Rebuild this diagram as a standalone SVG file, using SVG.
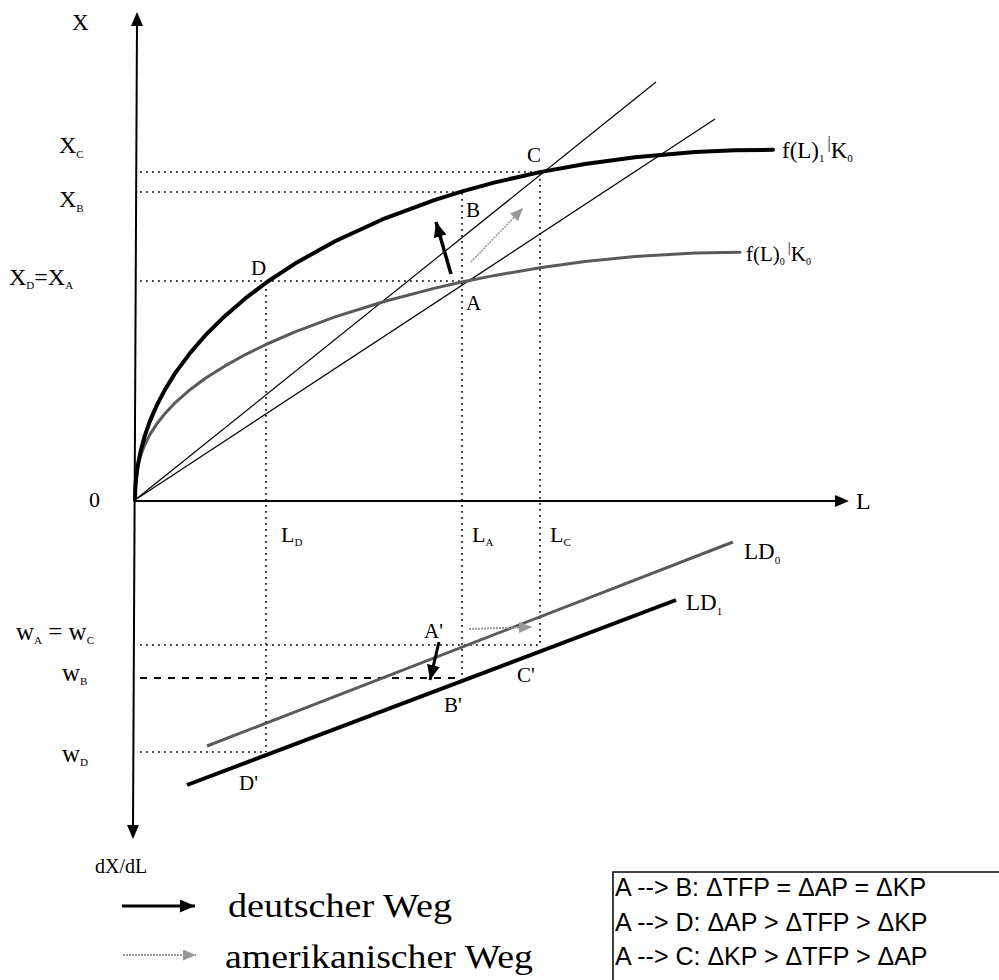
<svg xmlns="http://www.w3.org/2000/svg" width="999" height="980" viewBox="0 0 999 980">
<style>
.t{font-family:"Liberation Serif","Times New Roman",serif;fill:#000}
.s{font-family:"Liberation Sans",Arial,sans-serif;fill:#000}
.dot{stroke:#000;stroke-width:1.6;stroke-dasharray:1.8 4.2;fill:none}
.thin{stroke:#000;stroke-width:1.2;fill:none}
.crv{fill:none;stroke-linejoin:round;stroke-linecap:round}
</style>
<defs>
<marker id="ab" markerUnits="userSpaceOnUse" markerWidth="16" markerHeight="14" refX="15" refY="6.5" orient="auto"><path d="M0,0 L15,6.5 L0,13 z" fill="#000"/></marker>
<marker id="ag" markerUnits="userSpaceOnUse" markerWidth="14" markerHeight="12" refX="13" refY="5.5" orient="auto"><path d="M0,0 L13,5.5 L0,11 z" fill="#999"/></marker>
</defs>
<rect width="999" height="980" fill="#fff"/>

<g id="axes">
<line x1="137" y1="22" x2="133" y2="828" stroke="#000" stroke-width="2"/>
<path d="M137,12 L131,26 L143,26 z" fill="#000"/>
<path d="M133,839 L127,825 L139,825 z" fill="#000"/>
<line x1="134" y1="501" x2="836" y2="501" stroke="#000" stroke-width="2"/>
<path d="M849,501 L835,495 L835,507 z" fill="#000"/>
</g>

<g id="guides">
<line class="dot" x1="140" y1="172" x2="540" y2="172"/>
<line class="dot" x1="140" y1="192" x2="463" y2="192"/>
<line class="dot" x1="140" y1="281" x2="463" y2="281"/>
<line class="dot" x1="266" y1="283" x2="266" y2="752"/>
<line class="dot" x1="462" y1="193" x2="462" y2="680"/>
<line class="dot" x1="540" y1="173" x2="540" y2="645"/>
<line class="dot" x1="140" y1="645" x2="540" y2="645"/>
<line class="dot" x1="140" y1="752" x2="266" y2="752"/>
<line x1="140" y1="678" x2="462" y2="678" stroke="#000" stroke-width="2" stroke-dasharray="7 7"/>
</g>

<g id="rays">
<line class="thin" x1="135" y1="500" x2="715" y2="119"/>
<line class="thin" x1="135" y1="500" x2="656" y2="82"/>
</g>

<g id="curve-f0">
<polyline class="crv" stroke="#5a5a5a" stroke-width="3" points="135,500 135.3,490 136,477.8 138,465.6 141,454.5 145,444.2 150,434.4 157,423.6 165,413.5 175,402.9 190,389.7 205,378.5 225,365.9 245,354.8 267,344 295,331.9 335,316.9 385,301.2 435,288.1 463,281.7 495,275.4 540,267.7 585,261.5 635,256.6 695,253 740,252.3"/>
</g>

<g id="curve-f1">
<polyline class="crv" stroke="#000" stroke-width="4" points="135,500 135.3,488.5 136,479.1 138,464.1 141,449.5 145,435.1 150,420.9 157,404.9 165,389.6 175,373.4 190,353.1 205,335.7 225,315.9 245,298.7 267,282 295,263.6 335,241.2 385,218.3 435,199.8 463,191.1 495,182.4 540,172.1 585,164 635,157.2 695,152.1 735,150.3 773,149.8"/>
</g>

<g id="LD0">
<line x1="207" y1="746" x2="733" y2="542" stroke="#5a5a5a" stroke-width="3"/>
</g>
<g id="LD1">
<line x1="187" y1="785" x2="676" y2="600" stroke="#000" stroke-width="4"/>
</g>

<g id="connectors">
<line x1="451" y1="274" x2="436" y2="222" stroke="#000" stroke-width="3.5" marker-end="url(#ab)"/>
<line x1="471" y1="262" x2="523" y2="208" stroke="#999" stroke-width="1.6" stroke-dasharray="2 1" marker-end="url(#ag)"/>
<line x1="439" y1="642" x2="430" y2="680" stroke="#000" stroke-width="3" marker-end="url(#ab)"/>
<line x1="469" y1="629" x2="532" y2="627" stroke="#999" stroke-width="2" stroke-dasharray="2 1" marker-end="url(#ag)"/>
</g>

<g id="labels-axes">
<text class="t" x="72" y="30" font-size="23">X</text>
<text class="t" x="89" y="507" font-size="22">0</text>
<text class="t" x="856" y="509" font-size="24">L</text>
<text class="t" x="95" y="873" font-size="20">dX/dL</text>
<text class="t" x="59" y="153" font-size="24">X<tspan font-size="11" dy="5">C</tspan></text>
<text class="t" x="59" y="207" font-size="24">X<tspan font-size="11" dy="5">B</tspan></text>
<text class="t" x="9" y="285" font-size="24">X<tspan font-size="11" dy="4">D</tspan><tspan dy="-4">=X</tspan><tspan font-size="11" dy="4">A</tspan></text>
<text class="t" x="281" y="542" font-size="22">L<tspan font-size="11" dy="4">D</tspan></text>
<text class="t" x="472" y="542" font-size="22">L<tspan font-size="11" dy="4">A</tspan></text>
<text class="t" x="550" y="542" font-size="22">L<tspan font-size="11" dy="4">C</tspan></text>
<text class="t" x="16" y="640" font-size="25">w<tspan font-size="11" dy="4">A</tspan><tspan dy="-4"> = w</tspan><tspan font-size="11" dy="4">C</tspan></text>
<text class="t" x="62" y="681" font-size="25">w<tspan font-size="11" dy="4">B</tspan></text>
<text class="t" x="62" y="762" font-size="25">w<tspan font-size="11" dy="4">D</tspan></text>
</g>

<g id="labels-curves">
<text class="t" x="782" y="158" font-size="23">f(L)<tspan font-size="11" dy="4">1</tspan><tspan font-size="16" dy="-14" dx="3">|</tspan><tspan dy="10">K</tspan><tspan font-size="11" dy="4">0</tspan></text>
<text class="t" x="746" y="261" font-size="21">f(L)<tspan font-size="10" dy="4">0</tspan><tspan font-size="15" dy="-13" dx="3">|</tspan><tspan dy="9">K</tspan><tspan font-size="10" dy="4">0</tspan></text>
<text class="t" x="744" y="559" font-size="23">LD<tspan font-size="11" dy="5">0</tspan></text>
<text class="t" x="686" y="610" font-size="23">LD<tspan font-size="11" dy="5">1</tspan></text>
</g>

<g id="labels-points">
<text class="t" x="527" y="162" font-size="21">C</text>
<text class="t" x="466" y="217" font-size="21">B</text>
<text class="t" x="466" y="310" font-size="21">A</text>
<text class="t" x="251" y="275" font-size="21">D</text>
<text class="t" x="424" y="638" font-size="21">A'</text>
<text class="t" x="444" y="712" font-size="21">B'</text>
<text class="t" x="517" y="682" font-size="21">C'</text>
<text class="t" x="239" y="790" font-size="21">D'</text>
</g>

<g id="legend">
<line x1="122" y1="906" x2="195" y2="906" stroke="#000" stroke-width="3" marker-end="url(#ab)"/>
<text class="t" x="228" y="917" font-size="33" textLength="224" lengthAdjust="spacingAndGlyphs">deutscher Weg</text>
<line x1="123" y1="955" x2="196" y2="955" stroke="#999" stroke-width="2" stroke-dasharray="2 1" marker-end="url(#ag)"/>
<text class="t" x="225" y="968" font-size="33" textLength="308" lengthAdjust="spacingAndGlyphs">amerikanischer Weg</text>
</g>

<g id="box">
<rect x="613" y="872" width="400" height="120" fill="none" stroke="#000" stroke-width="1.5"/>
<text class="s" x="615" y="896" font-size="25">A --&gt; B: ΔTFP = ΔAP = ΔKP</text>
<text class="s" x="615" y="931" font-size="25">A --&gt; D: ΔAP &gt; ΔTFP &gt; ΔKP</text>
<text class="s" x="615" y="965" font-size="25">A --&gt; C: ΔKP &gt; ΔTFP &gt; ΔAP</text>
</g>
</svg>
